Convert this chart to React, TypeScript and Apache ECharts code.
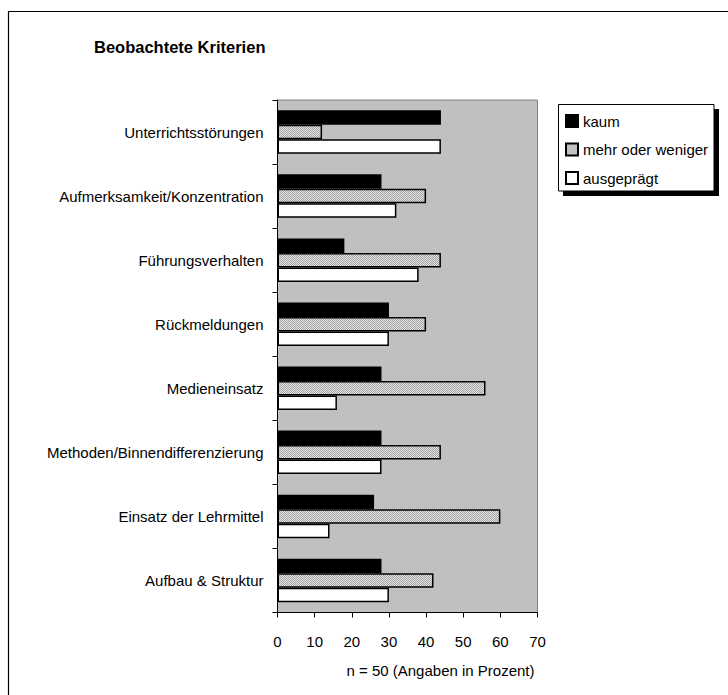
import React, { useEffect, useRef } from 'react';
import * as echarts from 'echarts';

// Observed criteria, share of ratings in percent (n = 50)
const categories = [
  'Unterrichtsstörungen',
  'Aufmerksamkeit/Konzentration',
  'Führungsverhalten',
  'Rückmeldungen',
  'Medieneinsatz',
  'Methoden/Binnendifferenzierung',
  'Einsatz der Lehrmittel',
  'Aufbau & Struktur',
];
const kaum = [44, 28, 18, 30, 28, 28, 26, 28];
const mehrOderWeniger = [12, 40, 44, 40, 56, 44, 60, 42];
const ausgepraegt = [44, 32, 38, 30, 16, 28, 14, 30];
const seriesNames = ['kaum', 'mehr oder weniger', 'ausgeprägt'];
const valueMin = 0;
const valueMax = 70;
const valueInterval = 10;
const titleText = 'Beobachtete Kriterien';
const axisCaption = 'n = 50 (Angaben in Prozent)';

const FONT = "'Liberation Sans', Arial, Helvetica, sans-serif";
const FS = 15;

// Fine diagonal stipple tile used as the fill of the middle series
function makeStipple(): string {
  const c = document.createElement('canvas');
  c.width = 4;
  c.height = 4;
  const ctx = c.getContext('2d')!;
  ctx.fillStyle = '#e2e2e2';
  ctx.fillRect(0, 0, 4, 4);
  ctx.fillStyle = '#a4a4a4';
  for (let i = 0; i < 4; i++) {
    ctx.fillRect(i, i, 1, 1);
    ctx.fillRect(i, (i + 2) % 4, 1, 1);
  }
  return c.toDataURL();
}

export default function App() {
  const ref = useRef<HTMLDivElement>(null);

  useEffect(() => {
    document.body.style.margin = '0';
    const chart = echarts.init(ref.current!, undefined, { renderer: 'svg' });
    const stipple = makeStipple();

    const barBase = { type: 'bar' as const, barWidth: 14.5, barGap: '0%' };

    chart.setOption({
      animation: false,
      backgroundColor: '#ffffff',
      title: {
        text: titleText,
        left: 94,
        top: 38,
        padding: 0,
        textStyle: { fontFamily: FONT, fontSize: 16.5, fontWeight: 'bold', color: '#000', lineHeight: 18 },
      },
      legend: {
        orient: 'vertical',
        left: 565,
        top: 113,
        padding: 0,
        itemGap: 12.5,
        itemWidth: 12,
        itemHeight: 12,
        icon: 'rect',
        selectedMode: false,
        data: seriesNames,
        textStyle: { fontFamily: FONT, fontSize: FS, color: '#000', lineHeight: 16 },
      },
      grid: {
        left: 277.5,
        right: 190.5,
        top: 100,
        bottom: 82.5,
        show: true,
        backgroundColor: '#c0c0c0',
        borderColor: '#808080',
        borderWidth: 1,
      },
      xAxis: {
        type: 'value',
        min: valueMin,
        max: valueMax,
        interval: valueInterval,
        splitLine: { show: false },
        axisLine: { show: true, lineStyle: { color: '#000', width: 1 } },
        axisTick: { show: true, length: 5, lineStyle: { color: '#000' } },
        axisLabel: { margin: 21, fontFamily: FONT, fontSize: FS, color: '#000' },
      },
      yAxis: {
        type: 'category',
        inverse: true,
        data: categories,
        axisLine: { show: true, lineStyle: { color: '#000', width: 1 } },
        axisTick: { show: true, length: 5, lineStyle: { color: '#000' } },
        axisLabel: { margin: 14, fontFamily: FONT, fontSize: FS, color: '#000' },
      },
      graphic: [
        {
          type: 'polyline',
          shape: { points: [[8.5, 700], [8.5, 11.5], [730, 11.5]] },
          style: { fill: 'none', stroke: '#000', lineWidth: 1.2 },
          silent: true,
        },
        {
          type: 'rect',
          shape: { x: 563, y: 109, width: 156, height: 87 },
          style: { fill: '#000' },
          z: 1,
          silent: true,
        },
        {
          type: 'rect',
          shape: { x: 558.5, y: 104.5, width: 155.5, height: 86.5 },
          style: { fill: '#fff', stroke: '#000', lineWidth: 1 },
          z: 2,
          silent: true,
        },
        {
          type: 'text',
          x: 440.5,
          y: 670,
          style: {
            text: axisCaption,
            align: 'center',
            verticalAlign: 'middle',
            font: `${FS}px ${FONT}`,
            fill: '#000',
          },
          silent: true,
        },
      ],
      series: [
        {
          ...barBase,
          name: seriesNames[0],
          data: kaum,
          itemStyle: { color: '#000', borderColor: '#000', borderWidth: 1.5 },
        },
        {
          ...barBase,
          name: seriesNames[1],
          data: mehrOderWeniger,
          itemStyle: {
            color: { image: stipple, repeat: 'repeat' },
            borderColor: '#000',
            borderWidth: 1.5,
          },
        },
        {
          ...barBase,
          name: seriesNames[2],
          data: ausgepraegt,
          itemStyle: { color: '#fff', borderColor: '#000', borderWidth: 1.5 },
        },
      ],
    });

    return () => chart.dispose();
  }, []);

  return <div ref={ref} style={{ width: 728, height: 695 }} />;
}
